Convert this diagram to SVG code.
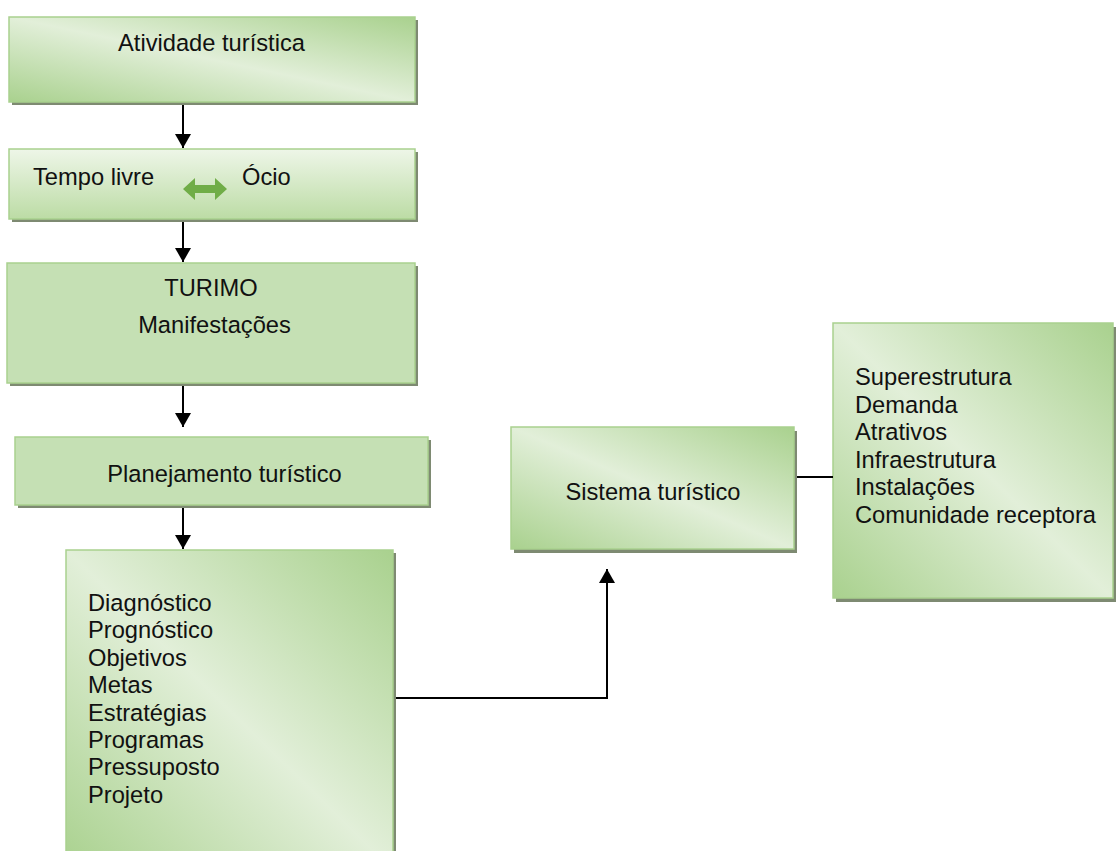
<svg xmlns="http://www.w3.org/2000/svg" width="1116" height="851" viewBox="0 0 1116 851">
  <defs>
    <style>
      .shadow { fill: #7e8a72; }
      .box { stroke: #a9d18e; stroke-width: 1.5; }
      .flat { fill: #c5e0b4; }
      .txt { font-family: "Liberation Sans", Arial, sans-serif; font-size: 23.7px; fill: #111; }
      .mid { text-anchor: middle; }
      .conn { fill: none; stroke: #000; stroke-width: 2; }
    </style>
    <!-- diagonal fill: darker green at top-right and bottom-left corners -->
    <linearGradient id="diag" x1="1" y1="0" x2="0" y2="1">
      <stop offset="0" stop-color="#a9d18e"/>
      <stop offset="0.5" stop-color="#e2efd9"/>
      <stop offset="1" stop-color="#a9d18e"/>
    </linearGradient>
    <!-- vertical fill: pale at the top, greener at the bottom -->
    <linearGradient id="vert" x1="0" y1="0" x2="0" y2="1">
      <stop offset="0" stop-color="#eef6e8"/>
      <stop offset="1" stop-color="#bcdca5"/>
    </linearGradient>
    <marker id="head" viewBox="0 0 14 16" refX="14" refY="8" markerWidth="14" markerHeight="16" markerUnits="userSpaceOnUse" orient="auto">
      <path d="M0,0 L14,8 L0,16 Z" fill="#000"/>
    </marker>
  </defs>

  <g id="atividade">
    <rect class="shadow" x="12" y="20" width="406" height="85"/>
    <rect class="box" x="9" y="17" width="406" height="85" fill="url(#diag)"/>
    <text class="txt mid" x="211.5" y="51">Atividade turística</text>
  </g>

  <g id="tempo-livre">
    <rect class="shadow" x="12" y="152" width="406" height="70"/>
    <rect class="box" x="9" y="149" width="406" height="70" fill="url(#vert)"/>
    <text class="txt" x="33" y="185">Tempo livre</text>
    <text class="txt" x="242" y="185">Ócio</text>
    <path d="M183,189 L195,178 L195,185 L215,185 L215,178 L227,189 L215,200 L215,193 L195,193 L195,200 Z" fill="#70ad47"/>
  </g>

  <g id="turismo">
    <rect class="shadow" x="10" y="266" width="408" height="120"/>
    <rect class="box flat" x="7" y="263" width="408" height="120"/>
    <text class="txt mid" x="211" y="296">TURIMO</text>
    <text class="txt mid" x="214.5" y="333">Manifestações</text>
  </g>

  <g id="planejamento">
    <rect class="shadow" x="18" y="440" width="413" height="68"/>
    <rect class="box flat" x="15" y="437" width="413" height="68"/>
    <text class="txt mid" x="224.5" y="482">Planejamento turístico</text>
  </g>

  <g id="etapas">
    <rect class="shadow" x="69" y="553" width="327" height="320"/>
    <rect class="box" x="66" y="550" width="327" height="320" fill="url(#diag)"/>
    <text class="txt" x="88" y="611">Diagnóstico</text>
    <text class="txt" x="88" y="638.4">Prognóstico</text>
    <text class="txt" x="88" y="665.8">Objetivos</text>
    <text class="txt" x="88" y="693.2">Metas</text>
    <text class="txt" x="88" y="720.6">Estratégias</text>
    <text class="txt" x="88" y="748">Programas</text>
    <text class="txt" x="88" y="775.4">Pressuposto</text>
    <text class="txt" x="88" y="802.8">Projeto</text>
  </g>

  <g id="sistema">
    <rect class="shadow" x="514" y="431" width="283" height="122"/>
    <rect class="box" x="511" y="427" width="283" height="122" fill="url(#diag)"/>
    <text class="txt mid" x="653" y="500">Sistema turístico</text>
  </g>

  <g id="componentes">
    <rect class="shadow" x="836" y="327" width="280" height="275"/>
    <rect class="box" x="833" y="323" width="280" height="275" fill="url(#diag)"/>
    <text class="txt" x="855" y="385">Superestrutura</text>
    <text class="txt" x="855" y="412.6">Demanda</text>
    <text class="txt" x="855" y="440.2">Atrativos</text>
    <text class="txt" x="855" y="467.8">Infraestrutura</text>
    <text class="txt" x="855" y="495.4">Instalações</text>
    <text class="txt" x="855" y="523">Comunidade receptora</text>
  </g>

  <g id="connectors">
    <line class="conn" x1="183" y1="105" x2="183" y2="148" marker-end="url(#head)"/>
    <line class="conn" x1="183" y1="222" x2="183" y2="262" marker-end="url(#head)"/>
    <line class="conn" x1="183" y1="386" x2="183" y2="427" marker-end="url(#head)"/>
    <line class="conn" x1="183" y1="508" x2="183" y2="549" marker-end="url(#head)"/>
    <polyline class="conn" points="396,698 607,698 607,569" marker-end="url(#head)"/>
    <line class="conn" x1="797" y1="477" x2="833" y2="477"/>
  </g>
</svg>
